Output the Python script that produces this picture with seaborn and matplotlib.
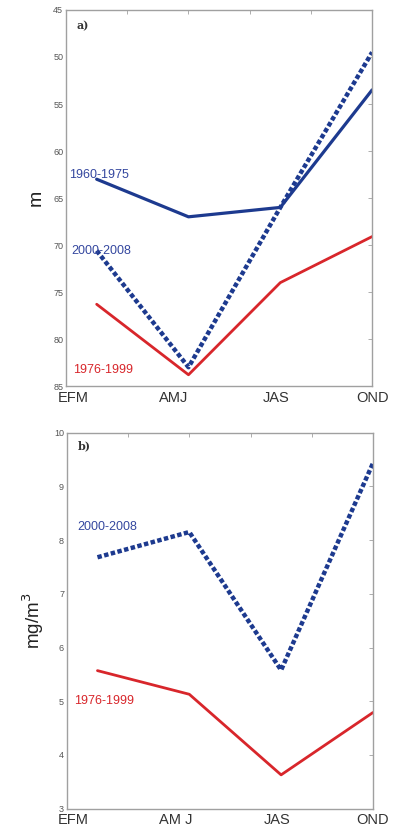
import matplotlib
matplotlib.use("Agg")
import matplotlib.pyplot as plt
import seaborn as sns
import pandas as pd
import numpy as np

seasons = ["EFM", "AMJ", "JAS", "OND"]
seasons_b = ["EFM", "AM J", "JAS", "OND"]
season_pos = [1, 2, 3, 4]

# Panel a: depth (m)
depth_1960_1975 = [63.0, 67.0, 66.0, 53.5]
depth_1976_1999 = [76.3, 83.8, 74.0, 69.1]
depth_2000_2008 = [70.6, 83.0, 66.0, 49.5]

# Panel b: concentration (mg/m3)
chl_1976_1999 = [5.57, 5.13, 3.63, 4.79]
chl_2000_2008 = [7.68, 8.15, 5.58, 9.43]

yticks_a = [45, 50, 55, 60, 65, 70, 75, 80, 85]
yticks_b = [3, 4, 5, 6, 7, 8, 9, 10]

BLUE = "#1d3a8f"
BLUE_TXT = "#34479f"
RED = "#d8262b"
GRAY = "#a0a0a0"

sns.set_style("white")
plt.rcParams["font.family"] = ["Liberation Sans", "DejaVu Sans"]

fig = plt.figure(figsize=(3.98, 8.32), dpi=100)
ax_a = fig.add_axes([0.166, 0.536, 0.769, 0.452])
ax_b = fig.add_axes([0.168, 0.028, 0.769, 0.452])


def frame(ax, yticks, ylim, labels, label_x):
    ax.set_xlim(2 / 3, 4)
    ax.set_ylim(*ylim)
    ax.set_xticks(np.arange(2 / 3, 4.01, 2 / 3))
    ax.set_xticklabels([])
    ax.set_yticks(yticks)
    ax.set_yticklabels([str(t) for t in yticks], fontsize=6.5, color="#555555")
    ax.tick_params(axis="both", direction="in", length=3, width=0.6,
                   color=GRAY, top=True, right=True, pad=2)
    for s in ax.spines.values():
        s.set_color(GRAY)
        s.set_linewidth(1.0)
    ax.set_xlabel("")
    for lab, x in zip(labels, label_x):
        ax.text(x, -0.012, lab, transform=ax.get_xaxis_transform(),
                ha="center", va="top", fontsize=10.5, color="#333333")


def series(ax, y, color, ls, lw):
    df = pd.DataFrame({"season": season_pos, "value": y})
    sns.lineplot(data=df, x="season", y="value", ax=ax, color=color,
                 linestyle=ls, linewidth=lw, legend=False)


# ---- panel a ----
series(ax_a, depth_1960_1975, BLUE, "-", 2.3)
series(ax_a, depth_2000_2008, BLUE, (0, (1.0, 0.55)), 3.2)
series(ax_a, depth_1976_1999, RED, "-", 2.0)
frame(ax_a, yticks_a, (85, 45), seasons, [0.74, 1.84, 2.96, 4.0])
ax_a.set_ylabel("m", fontsize=14, color="#222222", labelpad=6)
ax_a.text(0.785, 46.7, "a)", fontsize=8, fontweight="bold", family="DejaVu Serif",
          color="#333333", va="center")
ax_a.text(0.70, 62.6, "1960-1975", fontsize=9, color=BLUE_TXT, va="center")
ax_a.text(0.72, 70.6, "2000-2008", fontsize=9, color=BLUE_TXT, va="center")
ax_a.text(0.74, 83.3, "1976-1999", fontsize=9, color=RED, va="center")

# ---- panel b ----
series(ax_b, chl_2000_2008, BLUE, (0, (1.0, 0.55)), 3.2)
series(ax_b, chl_1976_1999, RED, "-", 2.0)
frame(ax_b, yticks_b, (3, 10), seasons_b, [0.74, 1.85, 2.96, 4.0])
ax_b.set_ylabel("mg/m$^3$", fontsize=13.5, color="#222222", labelpad=6)
ax_b.text(0.785, 9.76, "b)", fontsize=8, fontweight="bold", family="DejaVu Serif",
          color="#333333", va="center")
ax_b.text(0.78, 8.25, "2000-2008", fontsize=9, color=BLUE_TXT, va="center")
ax_b.text(0.74, 5.0, "1976-1999", fontsize=9, color=RED, va="center")

fig.savefig("out.png", dpi=100)
